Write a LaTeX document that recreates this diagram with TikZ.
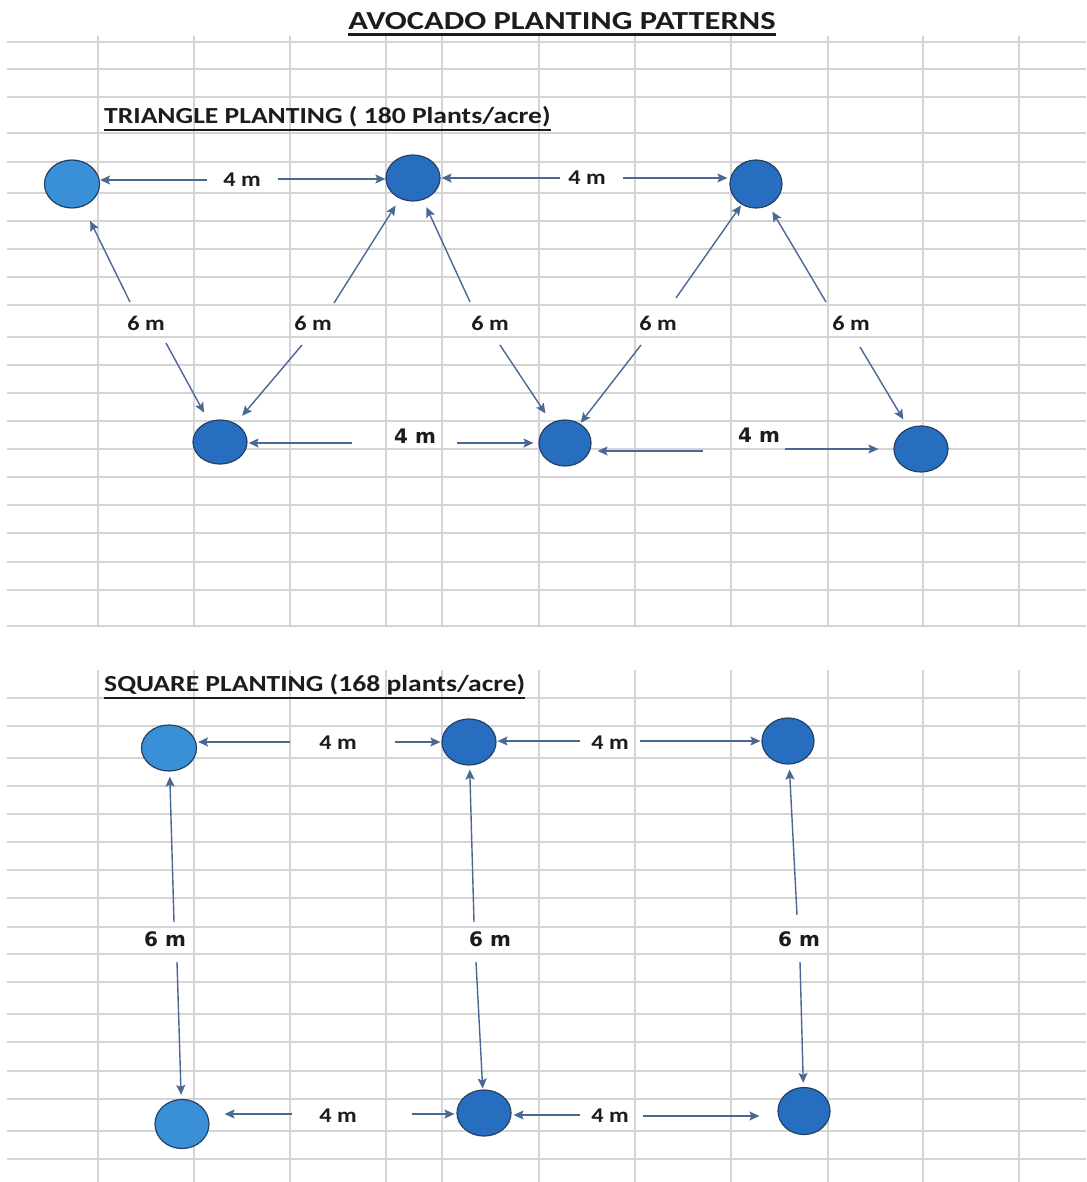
\documentclass[tikz,border=0pt]{standalone}
\usepackage{fontspec}
\setmainfont{Carlito}
\newfontfamily\dvfont{DejaVu Sans}
\usetikzlibrary{shapes.geometric,arrows.meta}
\definecolor{gridc}{RGB}{212,212,212}
\definecolor{lightb}{RGB}{58,144,214}
\definecolor{darkb}{RGB}{40,110,192}
\definecolor{edgeb}{RGB}{36,64,100}
\definecolor{arrc}{RGB}{74,104,148}
\definecolor{txt}{RGB}{28,28,28}
\newcommand\sx[1]{\scalebox{1.2}[1]{#1}}
\newcommand\lx[1]{\scalebox{1.15}[1]{#1}}
\tikzset{
  gridl/.style={draw=gridc, line width=1.3pt},
  plant/.style={ellipse, draw=edgeb, line width=1.2pt, fill=darkb, minimum width=54pt, minimum height=46pt, inner sep=0pt},
  plantL/.style={plant, fill=lightb},
  arr/.style={draw=arrc, line width=1.4pt, -{Stealth[length=10pt,width=9pt,inset=2pt]}},
  lbl/.style={text=txt, inner sep=0pt, font=\bfseries\fontsize{21}{21}\selectfont},
  lblb/.style={text=txt, inner sep=0pt, font=\dvfont\bfseries\fontsize{20}{20}\selectfont},
  heading/.style={text=txt, inner sep=0pt, anchor=base west, font=\bfseries\fontsize{23}{23}\selectfont},
}
\begin{document}
\begin{tikzpicture}[x=1pt,y=-1pt]
\useasboundingbox (0,0) rectangle (1086,1182);
\fill[white] (0,0) rectangle (1086,1182);
% grid
\foreach \y in {42,69,97,133,162,193,221,249,277,305,337,365,393,421,449,477,505,533,562,590,626}
  \draw[gridl] (7,\y) -- (1086,\y);
\foreach \y in {698,726,758,786,814,842,870,898,927,954,982,1014,1042,1071,1099,1131,1159}
  \draw[gridl] (7,\y) -- (1086,\y);
\foreach \x in {98,194,290,386,442,539,635,731,828,923,1019}{
  \draw[gridl] (\x,36) -- (\x,626);
  \draw[gridl] (\x,670) -- (\x,1182);
}
% titles
\node[text=txt, inner sep=0pt, anchor=base, font=\bfseries\fontsize{26}{26}\selectfont] (title) at (562,30) {\scalebox{1.25}[1]{AVOCADO PLANTING PATTERNS}};
\draw[txt, line width=2.6pt] (title.south west) ++(0,4) -- ([yshift=-4pt]title.south east);
\node[heading] (tri) at (104,123.5) {\sx{TRIANGLE PLANTING ( 180 Plants/acre)}};
\draw[txt, line width=2pt] (104,130) -- (tri.base east |- 0,130);
\node[heading] (sq) at (104,691) {\sx{SQUARE PLANTING (168 plants/acre)}};
\draw[txt, line width=2pt] (104,697.5) -- (sq.base east |- 0,697.5);
% triangle plants
\node[plantL, minimum width=55pt, minimum height=48pt] (T1) at (72,184) {};
\node[plant] (T2) at (413,178) {};
\node[plant, minimum width=52pt, minimum height=48pt] (T3) at (756,184) {};
\node[plant, minimum height=44pt] (T4) at (220,442) {};
\node[plant, minimum width=52pt] (T5) at (565,443) {};
\node[plant] (T6) at (921,449) {};
% square plants
\node[plantL, minimum width=55pt] (S1) at (169,748) {};
\node[plant] (S2) at (469,742) {};
\node[plant, minimum width=52pt] (S3) at (788,741) {};
\node[plantL, minimum height=49pt] (S4) at (182,1124) {};
\node[plant] (S5) at (484,1113) {};
\node[plant, minimum width=52pt, minimum height=47pt] (S6) at (804,1111) {};
% labels triangle
\node[lbl] (l1) at (242,180) {\lx{4 m}};
\node[lbl] (l2) at (587,178) {\lx{4 m}};
\node[lbl] (l3) at (146,323.5) {\lx{6 m}};
\node[lbl] (l4) at (313,323.5) {\lx{6 m}};
\node[lbl] (l5) at (490,323.5) {\lx{6 m}};
\node[lbl] (l6) at (658,323.5) {\lx{6 m}};
\node[lbl] (l7) at (851,323.5) {\lx{6 m}};
\node[lblb] (l8) at (415,436) {4 m};
\node[lblb] (l9) at (759,435) {4 m};
% labels square
\node[lbl] (m1) at (338,743) {\lx{4 m}};
\node[lbl] (m2) at (610,743) {\lx{4 m}};
\node[lblb] (m3) at (165,939) {6 m};
\node[lblb] (m4) at (490,939) {6 m};
\node[lblb] (m5) at (799,939) {6 m};
\node[lbl] (m6) at (338,1116) {\lx{4 m}};
\node[lbl] (m7) at (610,1116) {\lx{4 m}};
% arrow free ends
\coordinate (a1) at (207,180); \coordinate (a2) at (278,179);
\coordinate (a3) at (560,178); \coordinate (a4) at (623,178);
\coordinate (d1u) at (130,302); \coordinate (d1d) at (166,343);
\coordinate (d2u) at (334,303); \coordinate (d2d) at (302,345);
\coordinate (d3u) at (470,302); \coordinate (d3d) at (500,345);
\coordinate (d4u) at (676,298); \coordinate (d4d) at (641,345);
\coordinate (d5u) at (826,302); \coordinate (d5d) at (860,347);
\coordinate (b1) at (352,443); \coordinate (b2) at (457,443);
\coordinate (b3) at (703,451); \coordinate (b4) at (785,449);
\coordinate (s1) at (290,742); \coordinate (s2) at (395,742);
\coordinate (s3) at (580,741); \coordinate (s4) at (640,741);
\coordinate (v1u) at (174,922); \coordinate (v1d) at (177,962);
\coordinate (v2u) at (474,922); \coordinate (v2d) at (476,962);
\coordinate (v3u) at (797,915); \coordinate (v3d) at (800,962);
\coordinate (q1) at (292,1114); \coordinate (q2) at (412,1114);
\coordinate (q3) at (580,1115); \coordinate (q4) at (643,1116);
% horizontal arrows (kept level)
\foreach \s/\t/\sh in {a1/T1.east/0, a2/T2.west/0, a3/T2.east/1, a4/T3.west/2,
  b1/T4.east/1, b2/T5.west/5, b3/T5.east/6, b4/T6.west/15,
  s1/S1.east/1, s2/S2.west/1, s3/S2.east/1, s4/S3.west/1,
  q1/S4.east/15, q2/S5.west/2, q3/S5.east/2, q4/S6.west/18}
  \draw[arr, shorten >=\sh pt] (\s) -- (\s -| \t);
% slanted and vertical arrows
\foreach \s/\t/\sh in {d1u/T1/16, d1d/T4/10, d2u/T2/8, d2d/T4/10, d3u/T2/8, d3d/T5/11,
  d4u/T3/1, d4d/T5/1, d5u/T3/7, d5d/T6/10,
  v1u/S1/5, v1d/S4/4, v2u/S2/4, v2d/S5/1, v3u/S3/5, v3d/S6/4}
  \draw[arr, shorten >=\sh pt] (\s) -- (\t);
\end{tikzpicture}
\end{document}
